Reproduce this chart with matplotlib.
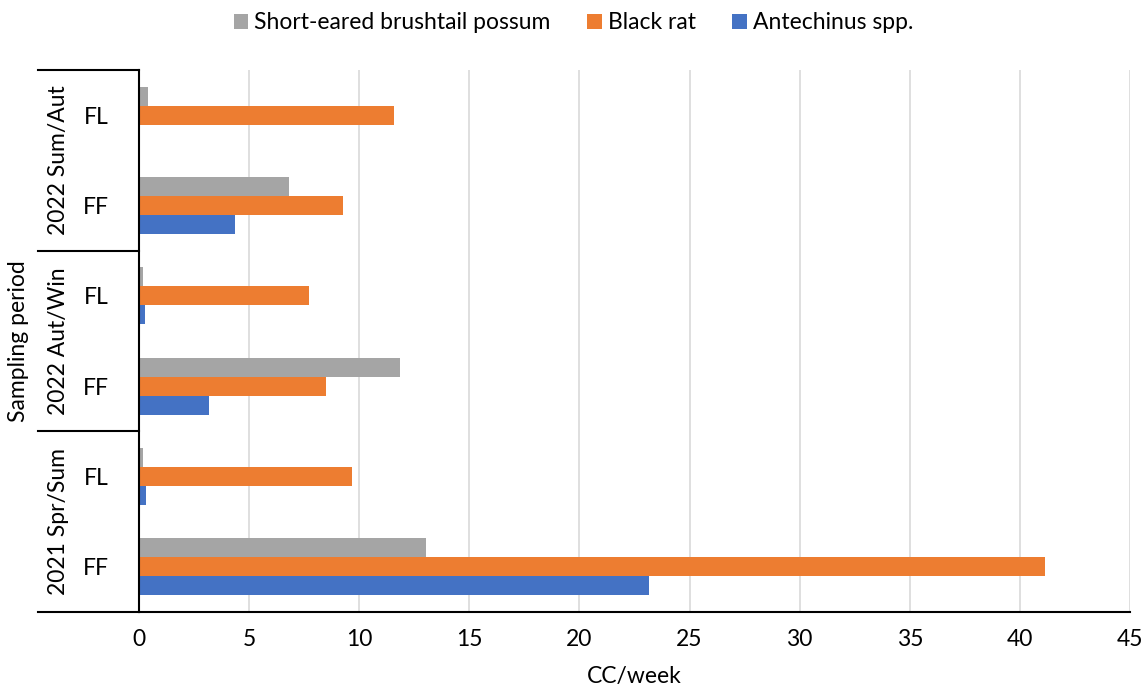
import matplotlib
matplotlib.use("Agg")
import matplotlib.pyplot as plt
import numpy as np

plt.rcParams['font.family'] = ['Lato', 'DejaVu Sans']

# rows listed bottom to top
sites = ["FF", "FL", "FF", "FL", "FF", "FL"]
periods = ["2021 Spr/Sum", "2022 Aut/Win", "2022 Sum/Aut"]
possum = [13.03, 0.19, 11.84, 0.19, 6.80, 0.40]
black_rat = [41.13, 9.69, 8.49, 7.72, 9.28, 11.60]
antechinus = [23.14, 0.32, 3.18, 0.26, 4.36, 0.0]

grey = "#A5A5A5"
orange = "#ED7D31"
blue = "#4472C4"
fs = 16.5

fig = plt.figure(figsize=(11.47, 6.95), dpi=100)
ax = fig.add_axes([0.1212, 0.1194, 0.8640, 0.7799])

y = np.arange(len(sites))
h = 0.21
b1 = ax.barh(y + h, possum, height=h, color=grey, label="Short-eared brushtail possum")
b2 = ax.barh(y, black_rat, height=h, color=orange, label="Black rat")
b3 = ax.barh(y - h, antechinus, height=h, color=blue, label="Antechinus spp.")

ax.set_xlim(0, 45)
ax.set_ylim(-0.5, 5.5)
ax.set_xticks(np.arange(0, 46, 5))
ax.set_yticks(y)
ax.set_yticklabels(sites)
ax.tick_params(axis="both", length=0, labelsize=fs, colors="black")
ax.tick_params(axis="x", pad=12)
ax.tick_params(axis="y", pad=22)
ax.grid(axis="x", color="#D9D9D9", linewidth=1.2)
ax.set_axisbelow(True)
for s in ["top", "right"]:
    ax.spines[s].set_visible(False)
ax.spines["left"].set_linewidth(1.5)
ax.spines["bottom"].set_linewidth(1.5)

ax.set_xlabel("CC/week", fontsize=fs, labelpad=12)

# two-level category axis: group separators and period labels
trans = ax.get_yaxis_transform()
x_left = -0.102
for yy in [-0.5, 1.5, 3.5, 5.5]:
    ax.plot([x_left, 0], [yy, yy], color="black", linewidth=1.5,
            transform=trans, clip_on=False)
for i, p in enumerate(periods):
    ax.text(-0.081, 2 * i + 0.5, p, rotation=90, ha="center", va="center",
            fontsize=fs, transform=trans)
ax.text(-0.122, 2.5, "Sampling period", rotation=90, ha="center", va="center",
        fontsize=fs, transform=trans)

fig.legend(handles=[b1, b2, b3], loc="upper center", bbox_to_anchor=(0.5, 1.012),
           ncol=3, frameon=False, fontsize=fs, handlelength=0.65, handleheight=0.65,
           handletextpad=0.25, columnspacing=1.6)

fig.savefig("out.png", dpi=100)
